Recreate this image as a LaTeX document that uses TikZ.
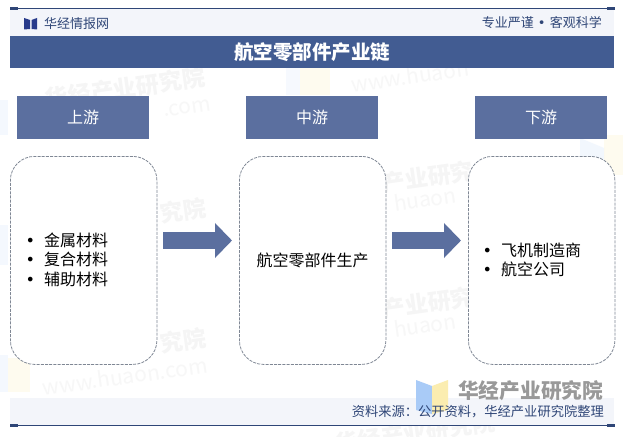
\documentclass[tikz,border=0pt]{standalone}
\usepackage{fontspec}
\setmainfont{Noto Sans CJK SC}
\newfontfamily\dejavu{DejaVu Sans}
\usetikzlibrary{arrows.meta,positioning}
\definecolor{navy}{HTML}{2F4677}
\definecolor{barblue}{HTML}{425C92}
\definecolor{headblue}{HTML}{5B6F9F}
\definecolor{bandgrey}{HTML}{F3F5FA}
\definecolor{dashgrey}{HTML}{7F8794}
\definecolor{markblue}{HTML}{A9CBF7}
\definecolor{markyellow}{HTML}{FBEDB0}
\newcommand{\dotitem}{\makebox[15pt][l]{\hspace{-3.5pt}{\dejavu •}}}
\newcommand{\lowered}[1]{\raisebox{-.75pt}[\dimexpr\height+.75pt\relax][\dimexpr\depth-.75pt\relax]{#1}}
\tikzset{
  x=1pt,y=-1pt,
  wmtext/.style={font=\fontsize{23}{23}\selectfont\bfseries,text=black!4,inner sep=0,rotate=8},
  wmsub/.style={font=\fontsize{21}{21}\selectfont,text=black!3,inner sep=0,rotate=8},
  band/.style={fill=bandgrey,draw=none,minimum width=604pt,inner sep=0,outer sep=0},
  rule/.style={draw=navy,line width=1pt},
  tick/.style={draw=navy,line width=2.4pt},
  headbox/.style={fill=headblue,text=white,minimum width=132pt,minimum height=43pt,inner sep=0,font=\fontsize{16}{16}\selectfont},
  panel/.style={draw=dashgrey,dash pattern=on 3pt off 1.2pt,line width=.8pt,fill=white,rounded corners=24pt,minimum width=146.5pt,minimum height=208pt,inner sep=0,font=\fontsize{16}{19.5}\selectfont},
  flow/.style={draw=headblue,line width=16.5pt,-{Triangle[length=17pt,width=34pt]}}
}
\begin{document}
\begin{tikzpicture}
\useasboundingbox (0,0) rectangle (623,436);
\fill[white] (0,0) rectangle (623,436);
% faint watermarks
\node[wmtext] (wa) at (125,88) {华经产业研究院};
\node[wmsub] (was) at (187,108) {.com};
\node[wmtext] (wb) at (183,211) {究院};
\node[wmtext] (wc) at (183,341) {究院};
\node[wmsub] (wcs) at (125,376) {www.huaon.com};
\node[wmsub] (wds) at (410,76) {www.huaon};
\node[wmtext] (we) at (428,177) {产业研究};
\node[wmsub] (wes) at (425,199) {huaon};
\node[wmtext] (wf) at (428,303) {产业研究};
\node[wmsub] (wfs) at (425,325) {huaon};
\node[wmtext] (wg) at (415,433) {华经产业研究院};
\fill[markblue,opacity=.12] (0,100) rectangle (8,135);
\fill[markblue,opacity=.12] (0,225) rectangle (8,265);
\fill[markblue,opacity=.12] (0,355) rectangle (8,392);
\fill[markyellow,opacity=.2] (8,358) rectangle (30,392);
\fill[markblue,opacity=.1] (286,68) rectangle (300,95);
\fill[markyellow,opacity=.2] (300,68) rectangle (330,95);
\fill[markblue,opacity=.15] (580,138) -- (604,148) -- (604,175) -- (580,165) -- cycle;
\fill[markyellow,opacity=.2] (604,135) rectangle (623,175);
% bands
\node[band,minimum height=28pt,anchor=north west] (topband) at (10,9) {};
\node[band,minimum height=28pt,anchor=north west] (botband) at (10,397.5) {};
\node[band,fill=barblue,minimum height=32pt,anchor=north west,text=white,font=\fontsize{19.5}{19.5}\selectfont\bfseries] (title) at (10,36) {航空零部件产业链};
% rules
\coordinate (tl) at (10,8.5); \coordinate (tr) at (615,8.5);
\coordinate (bl) at (10,425.5); \coordinate (br) at (615,425.5);
\draw[rule] (tl) -- (tr);
\draw[rule] (bl) -- (br);
\coordinate (tl2) at (18,8.5); \coordinate (tr2) at (607,8.5);
\coordinate (bl2) at (18,425.5); \coordinate (br2) at (607,425.5);
\draw[tick] (tl) -- (tl2); \draw[tick] (tr2) -- (tr);
\draw[tick] (bl) -- (bl2); \draw[tick] (br2) -- (br);
% header
\fill[navy!85!blue] (24,18) -- (30,20) -- (30,29) -- (24,29.5) -- cycle;
\fill[navy!85!blue] (37,18) -- (31.5,20) -- (31.5,29) -- (37,29.5) -- cycle;
\node[anchor=west,inner sep=0,text=navy,font=\fontsize{13}{13}\selectfont] (brand) at (44,23.5) {华经情报网};
\node[anchor=east,inner sep=0,text=navy,font=\fontsize{13}{13}\selectfont] (slogan) at (602,23) {专业严谨\makebox[16pt]{\dejavu •}客观科学};
% three stages
\node[headbox,anchor=north west] (h1) at (17,96) {上游};
\node[headbox,anchor=north west] (h2) at (246,96) {中游};
\node[headbox,anchor=north west] (h3) at (475,96) {下游};
\node[panel,anchor=north west,align=left] (p1) at (10,156) {\lowered{\begin{tabular}{@{}l@{}}\dotitem 金属材料\\\dotitem 复合材料\\\dotitem 辅助材料\end{tabular}}\hspace*{30pt}};
\node[panel,anchor=north west,align=center] (p2) at (239,156) {航空零部件生产};
\node[panel,anchor=north west,align=left] (p3) at (468,156) {\lowered{\begin{tabular}{@{}l@{}}\dotitem 飞机制造商\\\dotitem 航空公司\end{tabular}}\hspace*{16pt}};
\coordinate (a1s) at (163,240.5); \coordinate (a1e) at (232,240.5);
\coordinate (a2s) at (392,240.5); \coordinate (a2e) at (461,240.5);
\draw[flow] (a1s) -- (a1e);
\draw[flow] (a2s) -- (a2e);
% logo and footer
\fill[markblue] (416,380) -- (432,386) -- (432,414) -- (416,410) -- cycle;
\fill[markyellow] (448,380) -- (432,386) -- (432,414) -- (448,410) -- cycle;
\node[anchor=west,inner sep=0,text=black!40,font=\fontsize{20.7}{21}\selectfont\bfseries] (logotext) at (458,390.5) {华经产业研究院};
\node[anchor=east,inner sep=0,text=navy,font=\fontsize{13.26}{14}\selectfont] (source) at (604,412) {资料来源：公开资料，华经产业研究院整理};
\end{tikzpicture}
\end{document}
